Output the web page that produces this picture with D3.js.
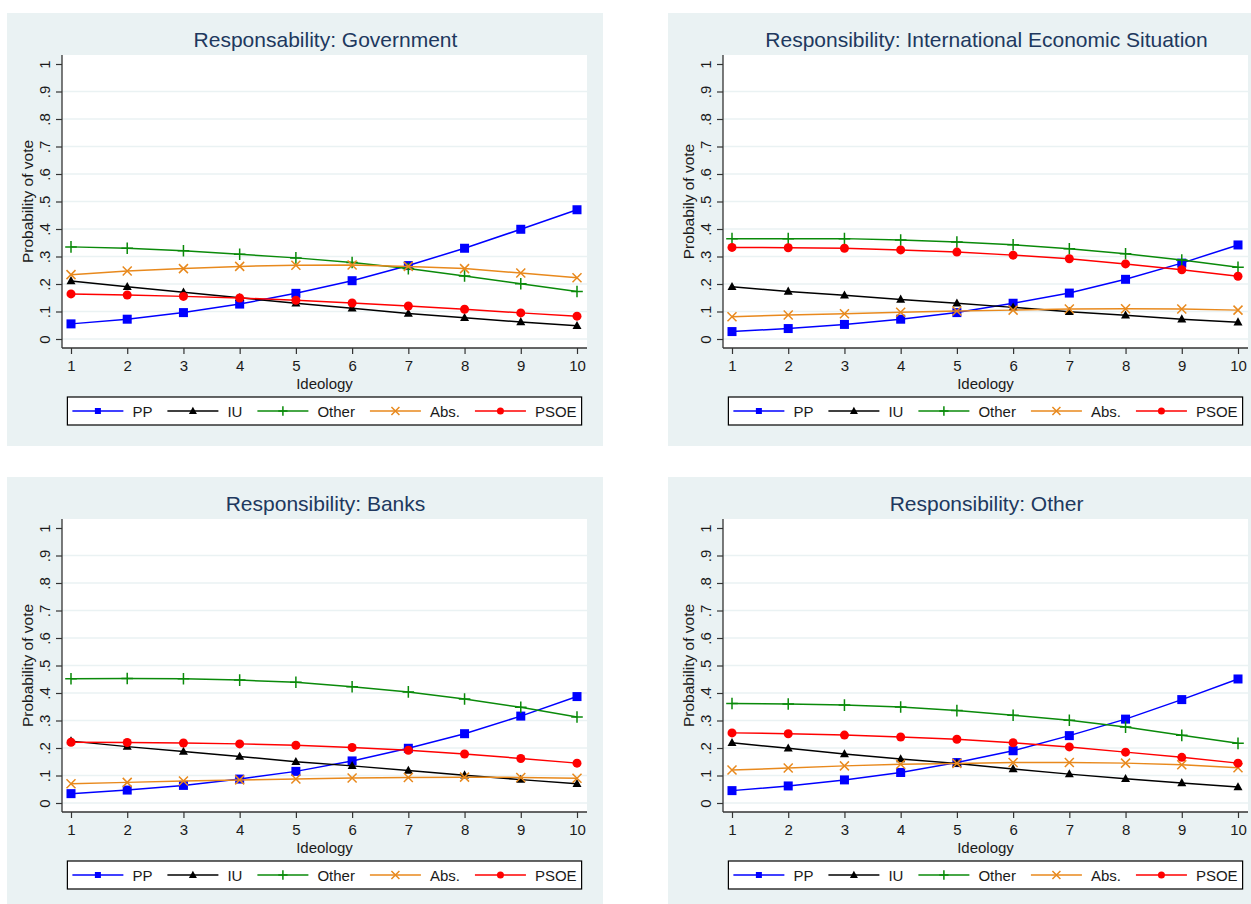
<!DOCTYPE html>
<html>
<head>
<meta charset="utf-8">
<script src="https://cdn.jsdelivr.net/npm/d3@7"></script>
<style>
  html, body { margin: 0; padding: 0; background: #fff; }
  svg { display: block; }
  text { font-family: "Liberation Sans", Arial, Helvetica, sans-serif; }
</style>
</head>
<body>
<svg id="chart" width="1251" height="904"></svg>
<script>
// Ideology scale positions (x axis)
const ideology = [1, 2, 3, 4, 5, 6, 7, 8, 9, 10];

// Parties / outcomes, in drawing and legend order
const parties = ["PP", "IU", "Other", "Abs.", "PSOE"];

// Y axis ticks
const yTicks = [0, 0.1, 0.2, 0.3, 0.4, 0.5, 0.6, 0.7, 0.8, 0.9, 1];
const yTickLabels = ["0", ".1", ".2", ".3", ".4", ".5", ".6", ".7", ".8", ".9", "1"];

// Panel titles and y-axis titles
const panelTitles = [
  "Responsability: Government",
  "Responsibility: International Economic Situation",
  "Responsibility: Banks",
  "Responsibility: Other"
];
const yTitles = ["Probability of vote", "Probabily of vote", "Probability of vote", "Probability of vote"];

// Predicted probability of vote by ideology; rows follow `parties`
const government = [
  [0.055, 0.072, 0.096, 0.127, 0.166, 0.212, 0.267, 0.330, 0.399, 0.470],
  [0.211, 0.190, 0.170, 0.150, 0.130, 0.112, 0.093, 0.077, 0.062, 0.048],
  [0.335, 0.330, 0.321, 0.308, 0.295, 0.278, 0.256, 0.229, 0.201, 0.173],
  [0.234, 0.247, 0.256, 0.264, 0.268, 0.269, 0.264, 0.256, 0.240, 0.223],
  [0.164, 0.160, 0.155, 0.149, 0.141, 0.131, 0.120, 0.108, 0.095, 0.083]
];
const international = [
  [0.027, 0.038, 0.053, 0.072, 0.096, 0.130, 0.167, 0.217, 0.276, 0.342],
  [0.190, 0.173, 0.159, 0.144, 0.130, 0.115, 0.099, 0.086, 0.072, 0.061],
  [0.365, 0.365, 0.365, 0.360, 0.353, 0.343, 0.328, 0.310, 0.287, 0.261],
  [0.081, 0.087, 0.092, 0.097, 0.102, 0.105, 0.109, 0.110, 0.109, 0.105],
  [0.333, 0.332, 0.330, 0.324, 0.316, 0.305, 0.292, 0.273, 0.252, 0.228]
];
const banks = [
  [0.034, 0.047, 0.064, 0.087, 0.115, 0.153, 0.199, 0.252, 0.316, 0.387],
  [0.225, 0.205, 0.187, 0.169, 0.150, 0.135, 0.118, 0.101, 0.085, 0.070],
  [0.452, 0.453, 0.452, 0.447, 0.439, 0.423, 0.404, 0.378, 0.348, 0.313],
  [0.070, 0.075, 0.080, 0.084, 0.087, 0.091, 0.093, 0.094, 0.093, 0.090],
  [0.221, 0.220, 0.218, 0.215, 0.210, 0.202, 0.192, 0.178, 0.162, 0.145]
];
const otherResp = [
  [0.045, 0.062, 0.084, 0.111, 0.147, 0.190, 0.245, 0.305, 0.376, 0.451],
  [0.219, 0.199, 0.178, 0.160, 0.144, 0.124, 0.105, 0.088, 0.073, 0.058],
  [0.362, 0.360, 0.356, 0.349, 0.336, 0.319, 0.301, 0.276, 0.246, 0.217],
  [0.120, 0.127, 0.135, 0.141, 0.144, 0.147, 0.147, 0.145, 0.139, 0.128],
  [0.255, 0.252, 0.247, 0.240, 0.232, 0.219, 0.204, 0.185, 0.166, 0.145]
];
const panelData = [government, international, banks, otherResp];

// Styling per party
const colors = ["#0000ff", "#000000", "#0a8a0a", "#e8891d", "#ff0000"];
const symbols = ["square", "triangle", "plus", "cross", "circle"];

const BG = "#eaf2f3";
const AXIS = "#333333";
const TEXT = "#1a1a1a";
const TITLE = "#20385e";

const svg = d3.select("#chart");
svg.append("rect").attr("width", 1251).attr("height", 904).attr("fill", "#fff");

// Panel origins (2x2 grid)
const origins = [[0, 0], [661, 0], [0, 464], [661, 464]];

function drawMarker(g, kind, cx, cy, color, s) {
  if (kind === "square") {
    g.append("rect").attr("x", cx - s / 2).attr("y", cy - s / 2)
      .attr("width", s).attr("height", s).attr("fill", color);
  } else if (kind === "triangle") {
    const h = s * 0.9;
    g.append("path")
      .attr("d", `M${cx},${cy - h * 0.6}L${cx + s / 2},${cy + h * 0.4}L${cx - s / 2},${cy + h * 0.4}Z`)
      .attr("fill", color);
  } else if (kind === "plus") {
    const r = s * 0.58;
    g.append("path")
      .attr("d", `M${cx - r},${cy}H${cx + r}M${cx},${cy - r}V${cy + r}`)
      .attr("stroke", color).attr("stroke-width", 1.5).attr("fill", "none");
  } else if (kind === "cross") {
    const r = s * 0.5;
    g.append("path")
      .attr("d", `M${cx - r},${cy - r}L${cx + r},${cy + r}M${cx - r},${cy + r}L${cx + r},${cy - r}`)
      .attr("stroke", color).attr("stroke-width", 1.5).attr("fill", "none");
  } else {
    g.append("circle").attr("cx", cx).attr("cy", cy).attr("r", s / 2).attr("fill", color);
  }
}

const markerSize = [9, 9, 10, 9, 9];
const legendMarkerSize = [6, 8, 8, 8, 7];

panelData.forEach((rows, p) => {
  const [ox, oy] = origins[p];
  const g = svg.append("g").attr("transform", `translate(${ox},${oy})`);

  // Panel background
  g.append("rect").attr("x", 7).attr("y", 13).attr("width", 596).attr("height", 433).attr("fill", BG);

  // Plot region
  const plotL = 62, plotR = 587, plotT = 55, plotB = 348;
  g.append("rect").attr("x", plotL).attr("y", plotT)
    .attr("width", plotR - plotL).attr("height", plotB - plotT).attr("fill", "#fff");

  const x = d3.scaleLinear().domain([1, 10]).range([71, 577]);
  const y = d3.scaleLinear().domain([0, 1]).range([339, 64]);

  // Horizontal grid lines (none at the top tick)
  g.append("g").selectAll("line").data(yTicks.filter(v => v < 1)).join("line")
    .attr("x1", plotL).attr("x2", plotR)
    .attr("y1", d => y(d)).attr("y2", d => y(d))
    .attr("stroke", BG).attr("stroke-width", 1.5);

  // Y axis
  const yAxis = g.append("g").attr("transform", `translate(${plotL},0)`)
    .call(d3.axisLeft(y).tickValues(yTicks).tickFormat((d, i) => yTickLabels[i]).tickSize(6).tickPadding(0));
  yAxis.select(".domain").attr("d", `M0,${plotT}V${plotB}`).attr("stroke", AXIS).attr("stroke-width", 1.3);
  yAxis.selectAll(".tick line").attr("stroke", AXIS).attr("stroke-width", 1.2);
  yAxis.selectAll(".tick text")
    .attr("x", null).attr("dy", null)
    .attr("transform", "translate(-12,0) rotate(-90)")
    .attr("text-anchor", "middle")
    .attr("font-size", 15).attr("fill", TEXT)
    .attr("font-family", "Liberation Sans, Arial, sans-serif");

  // X axis
  const xAxis = g.append("g").attr("transform", `translate(0,${plotB})`)
    .call(d3.axisBottom(x).tickValues(ideology).tickFormat(d3.format("d")).tickSize(6).tickPadding(0));
  xAxis.select(".domain").attr("d", `M${plotL},0H${plotR}`).attr("stroke", AXIS).attr("stroke-width", 1.3);
  xAxis.selectAll(".tick line").attr("stroke", AXIS).attr("stroke-width", 1.2);
  xAxis.selectAll(".tick text")
    .attr("y", 23).attr("dy", null)
    .attr("font-size", 15).attr("fill", TEXT)
    .attr("font-family", "Liberation Sans, Arial, sans-serif");

  // Axis titles
  g.append("text").attr("x", (plotL + plotR) / 2).attr("y", 389)
    .attr("text-anchor", "middle").attr("font-size", 15).attr("fill", TEXT).text("Ideology");
  g.append("text").attr("transform", `translate(33,${(64 + 339) / 2}) rotate(-90)`)
    .attr("text-anchor", "middle").attr("font-size", 15.5).attr("fill", TEXT).text(yTitles[p]);

  // Panel title
  g.append("text").attr("x", (plotL + plotR) / 2 + 1).attr("y", 46.5)
    .attr("text-anchor", "middle").attr("font-size", 21).attr("fill", TITLE).text(panelTitles[p]);

  // Series: connected lines with markers
  const line = d3.line().x((d, i) => x(ideology[i])).y(d => y(d));
  rows.forEach((vals, s) => {
    const sg = g.append("g");
    sg.append("path").attr("d", line(vals)).attr("fill", "none")
      .attr("stroke", colors[s]).attr("stroke-width", 1.5);
    vals.forEach((v, i) => drawMarker(sg, symbols[s], x(ideology[i]), y(v), colors[s], markerSize[s]));
  });

  // Legend
  const lg = g.append("g");
  const box = lg.append("rect").attr("y", 397).attr("height", 28)
    .attr("fill", "#fff").attr("stroke", "#000").attr("stroke-width", 1.2);
  const keyLen = 51, keyGap = 9, itemGap = 15, ly = 411;
  let cursor = 0;
  const items = [];
  parties.forEach((name, s) => {
    const ig = lg.append("g");
    ig.append("line").attr("x1", cursor).attr("x2", cursor + keyLen)
      .attr("y1", ly).attr("y2", ly).attr("stroke", colors[s]).attr("stroke-width", 1.5);
    drawMarker(ig, symbols[s], cursor + keyLen / 2, ly, colors[s], legendMarkerSize[s]);
    const t = ig.append("text").attr("x", cursor + keyLen + keyGap).attr("y", ly + 6)
      .attr("font-size", 15).attr("fill", TEXT).text(name);
    cursor += keyLen + keyGap + t.node().getComputedTextLength() + itemGap;
    items.push(ig);
  });
  const contentW = cursor - itemGap;
  const pad = 5;
  const start = (plotL + plotR) / 2 - contentW / 2;
  items.forEach(ig => ig.attr("transform", `translate(${start},0)`));
  box.attr("x", start - pad).attr("width", contentW + 2 * pad);
});
</script>
</body>
</html>
